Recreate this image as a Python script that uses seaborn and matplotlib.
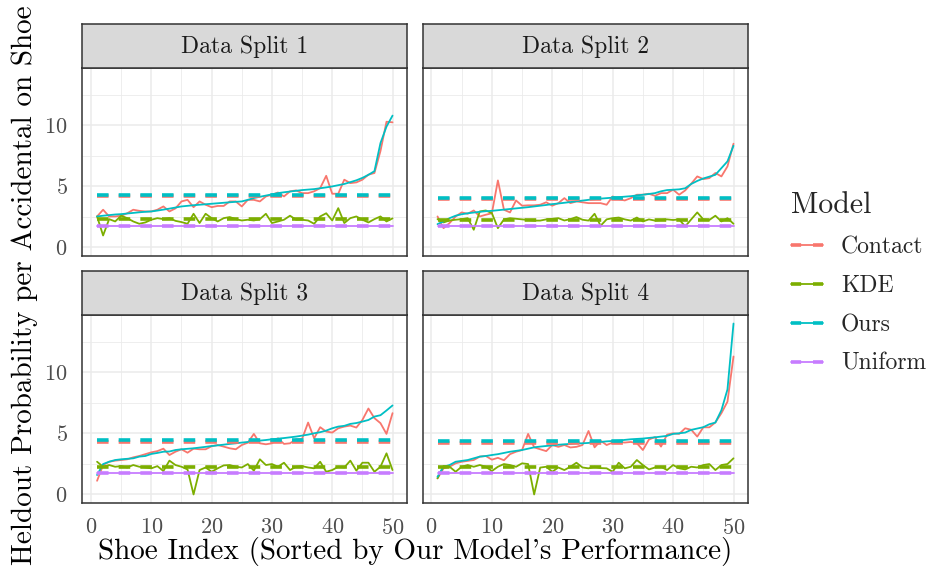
import numpy as np
import pandas as pd
import matplotlib
matplotlib.use("Agg")
import matplotlib.pyplot as plt
import seaborn as sns
from matplotlib.lines import Line2D
from matplotlib.legend_handler import HandlerTuple

# ---------------- data ----------------
shoe_index = list(range(1, 51))
models = ["Contact", "KDE", "Ours", "Uniform"]
splits = ["Data Split 1", "Data Split 2", "Data Split 3", "Data Split 4"]

ours_s1 = [2.54, 2.6, 2.65, 2.7, 2.73, 2.78, 2.83, 2.88, 2.92, 2.95,
           3.02, 3.1, 3.18, 3.27, 3.36, 3.41, 3.46, 3.5, 3.54, 3.58,
           3.62, 3.66, 3.7, 3.74, 3.77, 3.9, 4.05, 4.15, 4.25, 4.35,
           4.45, 4.52, 4.58, 4.64, 4.7, 4.74, 4.78, 4.85, 4.92, 5.0,
           5.1, 5.2, 5.35, 5.5, 5.7, 5.95, 6.25, 8.55, 9.9, 10.8]
contact_s1 = [2.54, 3.09, 2.54, 2.54, 2.6, 2.8, 3.09, 3.0, 2.95, 2.95,
              3.09, 3.36, 2.95, 3.2, 3.77, 3.9, 3.3, 3.77, 3.5, 3.3,
              3.4, 3.4, 3.77, 3.77, 3.36, 3.9, 3.9, 3.77, 4.18, 4.32,
              4.5, 4.18, 4.6, 4.67, 4.45, 4.45, 4.6, 4.86, 5.87, 4.4,
              4.4, 5.55, 5.27, 5.33, 5.55, 5.96, 6.1, 7.9, 10.3, 10.25]
kde_s1 = [2.54, 0.98, 2.32, 2.13, 2.6, 2.4, 2.13, 1.94, 2.05, 2.27,
          2.4, 2.32, 2.4, 2.18, 2.08, 1.94, 2.76, 2.0, 2.76, 2.4,
          2.13, 2.4, 2.49, 2.32, 2.21, 2.27, 2.21, 2.32, 2.76, 2.0,
          2.13, 2.27, 2.6, 2.27, 2.27, 2.21, 1.94, 2.54, 2.8, 2.21,
          3.22, 2.0, 2.4, 2.54, 2.27, 2.05, 2.32, 2.54, 2.13, 2.38]

ours_s2 = [1.91, 2.13, 2.4, 2.6, 2.72, 2.8, 2.86, 2.92, 2.97, 3.0,
           3.05, 3.1, 3.15, 3.2, 3.25, 3.3, 3.36, 3.42, 3.48, 3.55,
           3.6, 3.66, 3.72, 3.78, 3.84, 3.9, 3.95, 4.0, 4.04, 4.08,
           4.12, 4.16, 4.2, 4.26, 4.32, 4.38, 4.45, 4.6, 4.7, 4.73,
           4.76, 4.85, 5.2, 5.45, 5.65, 5.8, 5.95, 6.5, 7.05, 8.33]
contact_s2 = [2.54, 1.58, 2.0, 2.54, 2.87, 2.76, 3.03, 2.54, 2.68, 2.8,
              5.49, 3.09, 2.87, 3.85, 3.42, 3.45, 3.45, 3.5, 3.7, 3.42,
              3.63, 4.04, 3.63, 3.77, 3.7, 3.63, 3.63, 3.63, 3.5, 4.18,
              3.96, 3.85, 4.04, 4.32, 4.32, 4.4, 4.23, 4.45, 4.45, 4.73,
              4.32, 4.67, 5.22, 5.82, 5.6, 5.68, 6.1, 5.82, 6.64, 8.5]
kde_s2 = [2.32, 2.05, 2.21, 2.27, 2.32, 2.4, 1.45, 2.95, 3.03, 2.81,
          1.58, 2.3, 2.4, 2.35, 2.3, 2.25, 2.2, 2.2, 2.3, 2.35,
          2.4, 2.21, 2.32, 2.49, 2.27, 2.2, 2.76, 1.78, 2.3, 2.4,
          2.45, 2.3, 2.2, 2.45, 2.13, 2.3, 2.2, 2.25, 2.3, 2.25,
          2.3, 1.72, 2.3, 2.87, 2.3, 2.25, 2.6, 2.13, 2.4, 1.94]

ours_s3 = [1.59, 2.49, 2.68, 2.82, 2.88, 2.92, 2.96, 3.1, 3.15, 3.32,
           3.4, 3.5, 3.52, 3.64, 3.7, 3.74, 3.78, 3.84, 3.9, 3.97,
           4.02, 4.08, 4.14, 4.19, 4.25, 4.3, 4.36, 4.41, 4.46, 4.52,
           4.57, 4.62, 4.68, 4.74, 4.82, 4.9, 5.01, 5.1, 5.23, 5.42,
           5.56, 5.62, 5.78, 5.85, 5.97, 6.1, 6.38, 6.49, 6.88, 7.29]
contact_s3 = [1.12, 2.41, 2.68, 2.77, 2.82, 2.88, 3.04, 3.15, 3.3, 3.45,
              3.55, 3.75, 3.23, 3.5, 3.7, 3.42, 3.75, 3.7, 3.7, 3.95,
              4.05, 3.92, 3.78, 3.7, 4.05, 4.24, 4.96, 4.19, 4.11, 4.19,
              4.6, 4.14, 4.19, 4.52, 4.55, 5.89, 4.6, 5.51, 5.15, 5.07,
              5.42, 5.56, 5.64, 5.48, 6.1, 7.04, 6.25, 5.84, 4.96, 6.66]
kde_s3 = [2.68, 2.27, 2.41, 2.27, 2.32, 2.21, 2.41, 2.27, 2.21, 2.14,
          2.32, 1.92, 2.77, 2.41, 2.27, 2.05, 0.0, 2.0, 2.21, 1.86,
          2.14, 2.38, 2.41, 2.27, 2.21, 2.49, 1.95, 2.88, 2.41, 2.49,
          2.27, 2.6, 2.0, 2.27, 2.32, 2.21, 2.14, 2.68, 1.86, 2.0,
          2.27, 2.21, 2.77, 1.95, 2.6, 2.6, 1.86, 2.27, 3.37, 2.0]

ours_s4 = [1.45, 2.27, 2.41, 2.68, 2.75, 2.82, 2.96, 3.1, 3.15, 3.23,
           3.3, 3.4, 3.5, 3.57, 3.64, 3.75, 3.86, 3.92, 3.97, 4.02,
           4.07, 4.11, 4.14, 4.19, 4.19, 4.22, 4.25, 4.3, 4.35, 4.38,
           4.41, 4.47, 4.52, 4.55, 4.58, 4.63, 4.68, 4.74, 4.8, 4.96,
           5.01, 5.07, 5.29, 5.4, 5.51, 5.75, 5.89, 6.9, 8.6, 14.0]
contact_s4 = [1.32, 2.14, 2.27, 2.55, 2.68, 2.75, 2.82, 3.1, 3.15, 2.85,
              3.0, 2.8, 3.3, 3.5, 3.64, 4.96, 3.86, 3.7, 3.55, 4.05,
              3.9, 4.05, 3.85, 3.9, 4.05, 5.2, 3.86, 4.4, 4.05, 4.25,
              4.3, 4.25, 4.3, 4.2, 3.64, 4.5, 4.7, 3.92, 4.9, 5.01,
              4.96, 5.42, 5.3, 4.74, 5.5, 5.5, 5.9, 6.66, 7.6, 11.3]
kde_s4 = [1.32, 2.33, 2.27, 1.86, 2.27, 2.41, 2.27, 2.41, 2.27, 1.92,
          2.27, 2.49, 2.41, 2.27, 2.55, 2.49, 0.0, 2.2, 2.27, 1.86,
          2.21, 2.0, 2.27, 2.6, 2.21, 2.14, 2.27, 2.16, 2.14, 1.86,
          2.6, 2.14, 2.27, 2.82, 2.41, 2.05, 2.21, 2.27, 2.0, 2.41,
          2.14, 2.05, 2.27, 2.21, 2.41, 2.49, 2.0, 2.41, 2.49, 2.96]

uniform_level = [1.78, 1.78, 1.75, 1.75]
contact_mean = [4.25, 4.00, 4.30, 4.25]
kde_mean = [2.32, 2.21, 2.27, 2.25]
ours_mean = [4.32, 4.04, 4.47, 4.38]

contact_all = [contact_s1, contact_s2, contact_s3, contact_s4]
kde_all = [kde_s1, kde_s2, kde_s3, kde_s4]
ours_all = [ours_s1, ours_s2, ours_s3, ours_s4]

palette = {"Contact": "#F8766D", "KDE": "#7CAE00", "Ours": "#00BFC4", "Uniform": "#C77CFF"}

rows, mrows = [], []
for i, sp in enumerate(splits):
    ser = {"Contact": contact_all[i], "KDE": kde_all[i], "Ours": ours_all[i],
           "Uniform": [uniform_level[i]] * len(shoe_index)}
    means = {"Contact": contact_mean[i], "KDE": kde_mean[i], "Ours": ours_mean[i],
             "Uniform": uniform_level[i]}
    for m in models:
        for x, v in zip(shoe_index, ser[m]):
            rows.append((sp, m, x, v))
        for x in (shoe_index[0], shoe_index[-1]):
            mrows.append((sp, m, x, means[m]))
df = pd.DataFrame(rows, columns=["Split", "Model", "Shoe", "Value"])
dfm = pd.DataFrame(mrows, columns=["Split", "Model", "Shoe", "Value"])

# ---------------- style ----------------
sns.set_style("white")
plt.rcParams["font.family"] = ["cmr10", "DejaVu Serif"]
plt.rcParams["mathtext.fontset"] = "cm"
plt.rcParams["axes.formatter.use_mathtext"] = True
plt.rcParams["axes.unicode_minus"] = False

W, H = 930, 569
fig = plt.figure(figsize=(W / 100, H / 100), dpi=100)

lefts = [82.3, 422.7]
widths = [325.0, 325.6]
tops = [68.0, 315.0]
pheight = 188.0
strip_h = 44.2

DASH = (0, (3.2, 2.8))
for i, sp in enumerate(splits):
    r, c = divmod(i, 2)
    l = lefts[c]; t = tops[r]
    ax = fig.add_axes([l / W, 1 - (t + pheight) / H, widths[c] / W, pheight / H])
    sub = df[df.Split == sp]
    subm = dfm[dfm.Split == sp]
    sns.lineplot(data=sub, x="Shoe", y="Value", hue="Model", hue_order=models,
                 palette=palette, lw=1.3, legend=False, ax=ax, zorder=3)
    for m in models:
        sns.lineplot(data=subm[subm.Model == m], x="Shoe", y="Value",
                     color=palette[m], lw=2.6, linestyle=DASH, legend=False,
                     ax=ax, zorder=4)
    ax.set_xlim(-1.45, 52.45)
    ax.set_ylim(-0.7, 14.7)
    ax.set_xticks([0, 10, 20, 30, 40, 50])
    ax.set_xticks([5, 15, 25, 35, 45], minor=True)
    ax.set_yticks([0, 5, 10])
    ax.set_yticks([2.5, 7.5, 12.5], minor=True)
    ax.grid(which="major", color="#EBEBEB", lw=1.1)
    ax.grid(which="minor", color="#EBEBEB", lw=0.6)
    ax.set_axisbelow(True)
    ax.set_xlabel(""); ax.set_ylabel("")
    for s in ax.spines.values():
        s.set_color("#333333"); s.set_linewidth(1.1)
    ax.tick_params(which="major", direction="out", length=5.5, width=1.1,
                   color="#333333", labelcolor="#4D4D4D", labelsize=16, pad=5)
    ax.tick_params(which="minor", length=0)
    if r == 0:
        ax.tick_params(axis="x", bottom=False, labelbottom=False)
    if c == 1:
        ax.tick_params(axis="y", left=False, labelleft=False)
    # strip
    sax = fig.add_axes([l / W, 1 - t / H, widths[c] / W, strip_h / H])
    sax.set_facecolor("#D9D9D9")
    sax.set_xticks([]); sax.set_yticks([])
    for s in sax.spines.values():
        s.set_color("#333333"); s.set_linewidth(1.1)
    sax.text(0.5, 0.47, sp, ha="center", va="center", fontsize=17,
             color="#1A1A1A", transform=sax.transAxes)

fig.text(415 / W, 1 - 552 / H, "Shoe Index (Sorted by Our Model's Performance)",
         ha="center", va="center", fontsize=21, color="black")
fig.text(25 / W, 1 - 285 / H, "Heldout Probability per Accidental on Shoe",
         ha="center", va="center", rotation=90, fontsize=21, color="black")

handles = []
for m in models:
    solid = Line2D([], [], color=palette[m], lw=1.3)
    dashed = Line2D([], [], color=palette[m], lw=2.6, linestyle=(0, (2.8, 3.3)))
    handles.append((solid, dashed))
leg = fig.legend(handles=handles, labels=models, title="Model",
                 loc="upper left", bbox_to_anchor=(787 / W, 1 - 188 / H),
                 frameon=False, fontsize=17, title_fontsize=21.5,
                 borderpad=0.17, borderaxespad=0,
                 handlelength=1.36, handletextpad=0.76, labelspacing=0.71,
                 handler_map={tuple: HandlerTuple(ndivide=1)})
leg._legend_box.align = "left"

fig.savefig("out.png", dpi=100)
